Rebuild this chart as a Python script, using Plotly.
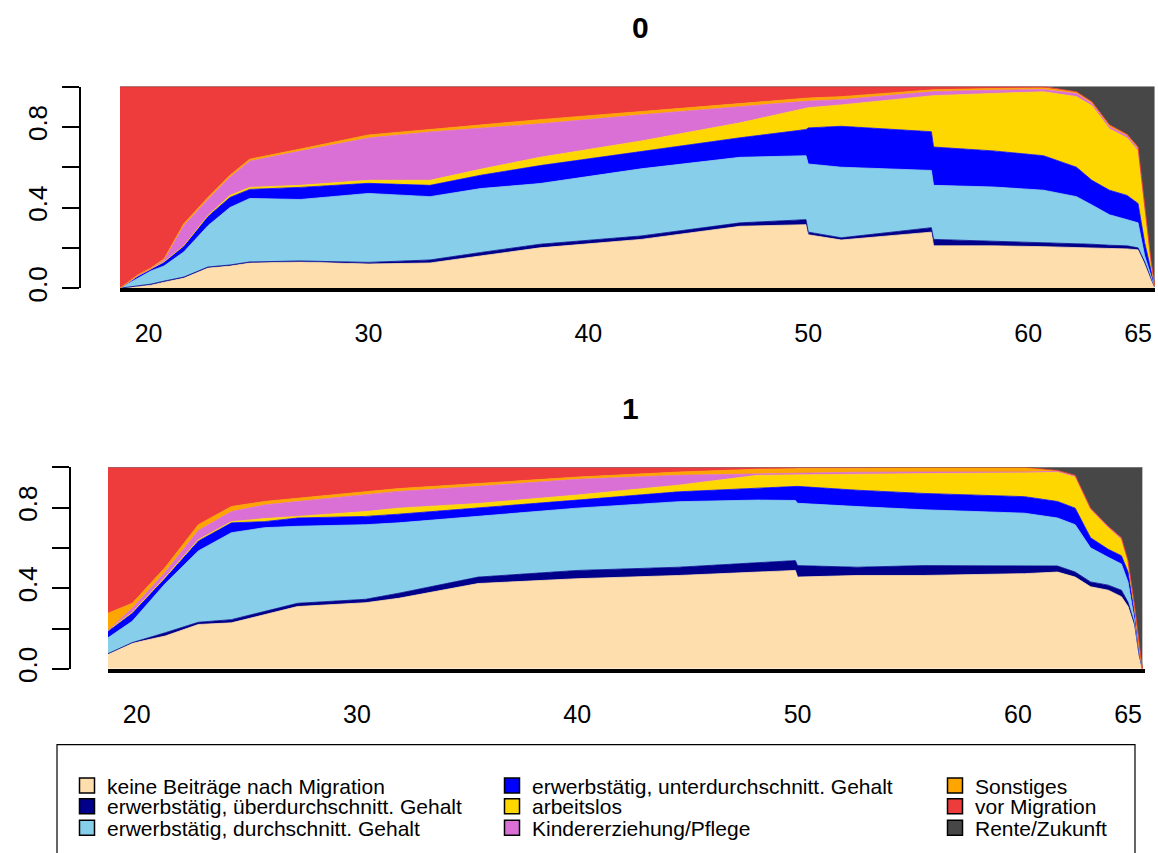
import numpy as np
import plotly.graph_objects as go

# Zustände (Reihenfolge von unten nach oben gestapelt)
states = [
    "keine Beiträge nach Migration",
    "erwerbstätig, überdurchschnitt. Gehalt",
    "erwerbstätig, durchschnitt. Gehalt",
    "erwerbstätig, unterdurchschnitt. Gehalt",
    "arbeitslos",
    "Kindererziehung/Pflege",
    "Sonstiges",
    "vor Migration",
    "Rente/Zukunft",
]
colors = ["#FFDEAD", "#00008B", "#87CEEB", "#0000FF", "#FFD700",
          "#DA70D6", "#FFA500", "#EE3B3B", "#474747"]

age_ticks = [20, 30, 40, 50, 60, 65]

# --- Gruppe 0: obere Grenzen (kumulierte Anteile) je Zustand ---
ages_0 = [18.7, 19.5, 20.1, 20.7, 21.6, 22.7, 23.7, 24.6, 26.9, 30.0,
          32.8, 35.1, 37.8, 42.4, 46.9, 49.9, 50.0, 51.5, 55.6, 55.7,
          58.4, 60.7, 62.2, 62.9, 63.7, 64.5, 65.0, 65.3, 65.6, 65.75]
cum0_keine = [0, .01, .015, .03, .05, .10, .11, .125, .13, .12,
              .125, .16, .20, .242, .307, .315, .265, .239, .278, .21,
              .21, .206, .20, .198, .197, .195, .19, .12, .04, .005]
cum0_ueber = [0, .01, .02, .035, .055, .105, .115, .13, .135, .128,
              .14, .177, .218, .259, .324, .34, .278, .25, .30, .242,
              .234, .226, .223, .218, .213, .21, .20, .13, .045, .007]
cum0_durch = [0, .05, .085, .11, .18, .31, .40, .445, .44, .47,
              .454, .494, .519, .592, .649, .657, .616, .60, .584, .51,
              .502, .486, .454, .413, .364, .34, .324, .16, .06, .008]
cum0_unter = [0, .06, .095, .13, .21, .356, .45, .49, .50, .52,
              .51, .56, .608, .678, .746, .787, .795, .803, .776, .70,
              .681, .657, .60, .535, .486, .46, .42, .226, .08, .01]
cum0_arbeitslos = [0, .06, .095, .13, .21, .36, .46, .50, .51, .535,
                   .535, .59, .649, .73, .82, .893, .895, .909, .954, .955,
                   .966, .974, .95, .905, .79, .745, .68, .39, .12, .013]
cum0_kinder = [0, .06, .095, .14, .31, .44, .55, .63, .68, .745,
               .775, .795, .815, .86, .90, .925, .928, .935, .972, .975,
               .982, .985, .965, .915, .80, .755, .69, .395, .125, .014]
cum0_sonst = [0, .065, .10, .145, .32, .45, .56, .64, .69, .76,
              .787, .81, .836, .876, .917, .941, .943, .95, .982, .984,
              .99, .993, .974, .925, .81, .763, .70, .40, .128, .015]
cum0_vormig = [1, 1, 1, 1, 1, 1, 1, 1, 1, 1,
               1, 1, 1, 1, 1, 1, 1, 1, 1, 1,
               1, 1, .974, .925, .81, .763, .70, .40, .128, .015]

# --- Gruppe 1 ---
ages_1 = [18.7, 19.8, 21.3, 22.8, 24.3, 25.8, 27.3, 30.4, 31.9, 35.5, 40.0, 44.6,
          48.2, 49.9, 50.0, 52.7, 55.7, 60.3, 61.8, 62.6, 63.3, 64.1, 64.7, 65.0,
          65.3, 65.5, 65.65]
cum1_keine = [.073, .127, .163, .22, .228, .268, .309, .328, .35, .423, .447, .463,
              .48, .488, .455, .463, .463, .472, .48, .455, .407, .39, .358, .309,
              .211, .065, 0]
cum1_ueber = [.075, .13, .179, .231, .244, .285, .325, .345, .375, .455, .488, .504,
              .528, .537, .512, .504, .512, .512, .51, .48, .431, .415, .39, .33,
              .22, .07, 0]
cum1_durch = [.154, .236, .423, .585, .675, .70, .707, .715, .724, .756, .797, .829,
              .837, .835, .821, .805, .789, .772, .748, .715, .60, .553, .52, .43,
              .24, .08, 0]
cum1_unter = [.187, .276, .45, .634, .724, .73, .748, .756, .767, .797, .837, .878,
              .894, .902, .905, .886, .87, .854, .83, .797, .65, .593, .561, .48,
              .27, .09, 0]
cum1_arbeitslos = [.19, .28, .455, .64, .73, .745, .756, .78, .797, .82, .862, .911,
                   .96, .962, .963, .965, .97, .972, .975, .952, .79, .70, .64, .53,
                   .30, .11, 0]
cum1_kinder = [.19, .30, .48, .686, .78, .813, .83, .862, .88, .905, .94, .96,
               .967, .97, .972, .975, .976, .976, .98, .956, .793, .703, .645, .535,
               .305, .112, 0]
cum1_sonst = [.276, .325, .504, .715, .805, .83, .846, .878, .894, .919, .951, .976,
              .99, .992, .993, .995, 1, 1, .984, .96, .797, .707, .65, .537,
              .309, .114, 0]
cum1_vormig = [1, 1, 1, 1, 1, 1, 1, 1, 1, 1, 1, 1, 1, 1, 1, 1, 1, 1,
               .984, .96, .797, .707, .65, .537, .309, .114, 0]

groups = [
    ("0", ages_0, [cum0_keine, cum0_ueber, cum0_durch, cum0_unter, cum0_arbeitslos,
                   cum0_kinder, cum0_sonst, cum0_vormig]),
    ("1", ages_1, [cum1_keine, cum1_ueber, cum1_durch, cum1_unter, cum1_arbeitslos,
                   cum1_kinder, cum1_sonst, cum1_vormig]),
]

W, H = 1158, 853
FONT = "Arial, Liberation Sans, sans-serif"

fig = go.Figure()

for gi, (label, ages, cums) in enumerate(groups):
    cum = np.vstack([np.zeros(len(ages))] + [np.array(c, float) for c in cums]
                    + [np.ones(len(ages))])
    shares = np.diff(cum, axis=0)  # Anteile je Zustand
    ax = "" if gi == 0 else "2"
    for k, name in enumerate(states):
        fig.add_trace(go.Scatter(
            x=ages, y=shares[k], name=name, stackgroup=f"g{gi}",
            mode="lines", line=dict(width=0.8, color=colors[k]),
            fillcolor=colors[k], showlegend=False, hoverinfo="skip",
            xaxis="x" + ax, yaxis="y" + ax,
        ))

# Legende: drei Spalten, spaltenweise gefüllt
leg_x = [67, 492, 935]
leg_y = [799, 820, 842]
for k, name in enumerate(states):
    key = "legend" if k == 0 else f"legend{k + 1}"
    fig.add_trace(go.Scatter(
        x=[None], y=[None], mode="markers", name=name, legend=key,
        marker=dict(symbol="square", size=15, color=colors[k],
                    line=dict(color="black", width=1.5)),
    ))
    fig.layout[key] = dict(
        x=leg_x[k // 3] / W, y=1 - leg_y[k % 3] / H, xanchor="left", yanchor="middle",
        bgcolor="rgba(0,0,0,0)", borderwidth=0,
        font=dict(family=FONT, size=21, color="black"),
        itemclick=False, itemdoubleclick=False,
    )

xaxis_style = dict(
    range=[18.7, 65.77], tickvals=age_ticks, showline=True, linewidth=4,
    linecolor="black", ticks="outside", ticklen=20, tickcolor="rgba(0,0,0,0)",
    showgrid=False, zeroline=False, tickfont=dict(family=FONT, size=25, color="black"),
)
yaxis_style = dict(
    range=[0, 1], tickvals=[0, 0.2, 0.4, 0.6, 0.8, 1.0],
    ticktext=["0.0", "", "0.4", "", "0.8", ""], tickangle=-90,
    showline=True, linewidth=1.5, linecolor="black", ticks="outside",
    ticklen=17, tickwidth=1.5, tickcolor="black", showgrid=False, zeroline=False,
    anchor="free", ticklabelstandoff=5,
    tickfont=dict(family=FONT, size=26, color="black"),
)

title_font = dict(family=FONT, size=30, weight="bold", color="black")

fig.update_layout(
    width=W, height=H, margin=dict(l=0, r=0, t=0, b=0),
    paper_bgcolor="white", plot_bgcolor="white",
    xaxis=dict(xaxis_style, domain=[120 / W, 1155 / W], anchor="y"),
    yaxis=dict(yaxis_style, domain=[1 - 293 / H, 1 - 88 / H], position=80 / W),
    xaxis2=dict(xaxis_style, domain=[108 / W, 1145 / W], anchor="y2"),
    yaxis2=dict(yaxis_style, domain=[1 - 680 / H, 1 - 475 / H], position=70 / W),
    annotations=[
        dict(text="0", x=640 / W, y=1 - 28 / H, xref="paper", yref="paper",
             xanchor="center", yanchor="middle", showarrow=False, font=title_font),
        dict(text="1", x=630 / W, y=1 - 415 / H, xref="paper", yref="paper",
             xanchor="center", yanchor="middle", showarrow=False, font=title_font),
    ],
    shapes=[dict(type="rect", xref="paper", yref="paper",
                 x0=57 / W, x1=1135 / W, y0=-0.02, y1=1 - 757 / H,
                 line=dict(color="black", width=1.2))],
)

fig.write_html("out.html", config={"displayModeBar": False},
               post_script="document.body.style.margin = '0';")
